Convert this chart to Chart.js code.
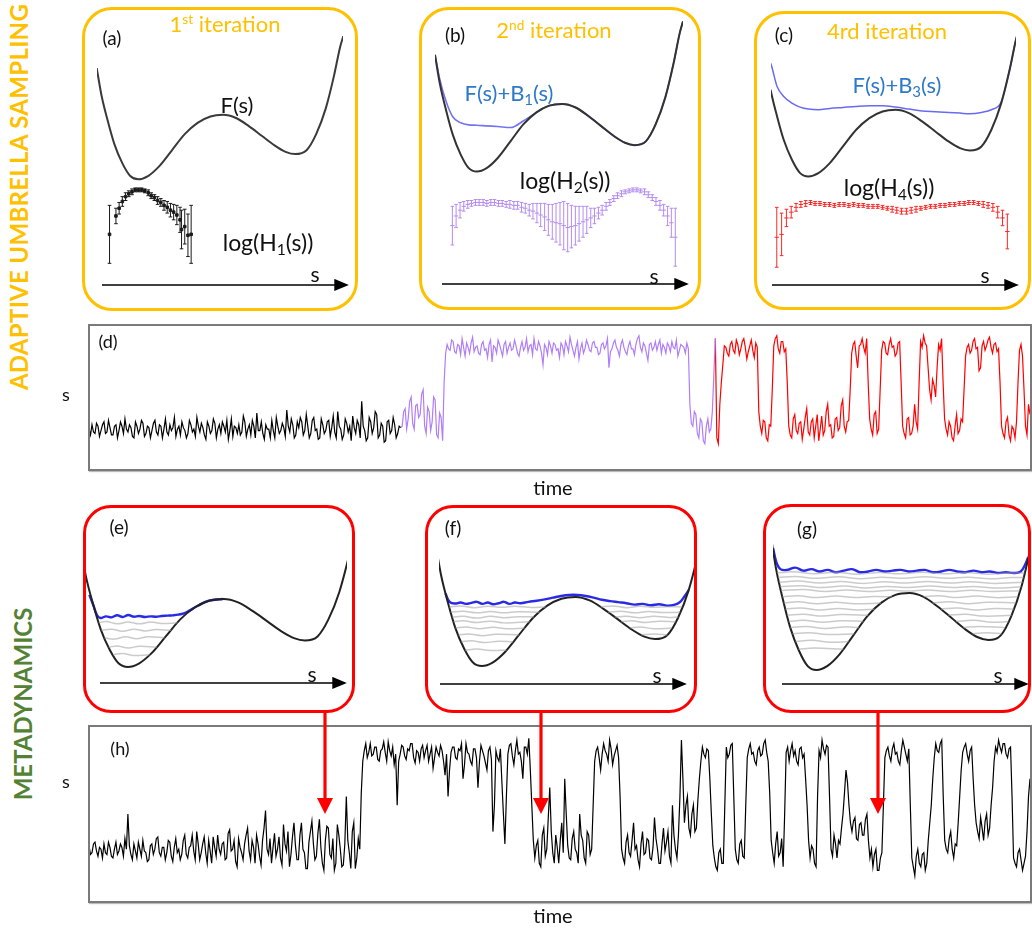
<!DOCTYPE html>
<html><head><meta charset="utf-8">
<script src="https://cdn.jsdelivr.net/npm/chart.js@4.4.1/dist/chart.umd.min.js"></script>
<style>
body{margin:0;background:#fff;width:1032px;height:931px;overflow:hidden;position:relative;font-family:Lato,'Open Sans',sans-serif;color:#111;}
.box{position:absolute;box-sizing:border-box;}
.ob{border:3px solid #FFC000;border-radius:30px;}
.rb{border:3.5px solid #FF0000;border-radius:28px;}
.tb{border:2px solid #7a7a7a;box-shadow:1px 1px 1px #bbb;}
.t{position:absolute;transform:translate(-50%,-50%);white-space:nowrap;line-height:1;}
canvas{position:absolute;}
sub{font-size:68%;vertical-align:-0.28em;line-height:0}
sup{font-size:62%;vertical-align:0.6em;line-height:0}
svg{position:absolute;left:0;top:0;z-index:5;pointer-events:none}
</style></head><body>
<script>
// ---------- DATA ----------
// free-energy profile F(s)
const sF = [0,.0195,.0452,.0713,.1037,.136,.1688,.208,.253,.305,.357,.409,.461,.513,.565,.617,.669,.721,.766,.805,.851,.890,.929,.962,.987,1.0];
const Fv = [1.725,1.30,.90,.55,.25,.05,0,.05,.20,.45,.70,.875,.975,1.0,.95,.825,.675,.525,.425,.39,.45,.70,1.10,1.60,2.05,2.22];
// adaptive bias after iterations 1 and 3 (on the sF grid)
const B1 = [0,.06,.13,.26,.47,.64,.685,.625,.465,.20,.05,0,0,0,0,0,0,0,0,0,0,0,0,0,0,0];
const B3 = [.05,.40,.45,.65,.85,.99,1.01,.95,.82,.585,.35,.185,.085,.04,.06,.155,.295,.435,.525,.55,.51,.30,.02,0,0,0];
// histograms log(H(s)) with error bars
const hA_s = [.052,.078,.091,.104,.117,.13,.143,.156,.169,.182,.195,.209,.221,.234,.247,.26,.273,.286,.299,.312,.325,.338,.344,.357,.37,.383];
const hA_v = [3.3,5.2,6.0,6.7,7.2,7.5,7.7,7.9,7.9,7.9,7.8,7.6,7.3,7.1,6.8,6.6,6.3,6.1,5.8,5.6,5.3,4.8,3.8,4.1,3.2,3.3];
const hA_e = [3.0,.8,.6,.5,.4,.3,.3,.2,.2,.2,.2,.3,.3,.3,.4,.4,.5,.6,.7,.8,1.0,1.3,2.0,1.8,2.2,3.0];
const hB_s = [.070,.085,.101,.116,.132,.147,.163,.178,.194,.209,.225,.240,.256,.271,.287,.302,.318,.333,.349,.364,.380,.395,.411,.426,.442,.457,.473,.488,.504,.519,.535,.550,.566,.581,.597,.612,.628,.643,.659,.674,.690,.705,.721,.736,.752,.767,.783,.798,.814,.829,.845,.860,.876,.891,.907,.922,.938,.953,.969];
const hB_v = [4.2,5.2,5.8,6.2,6.4,6.5,6.6,6.6,6.6,6.5,6.6,6.6,6.5,6.5,6.4,6.4,6.3,6.3,6.1,6.0,5.8,5.7,5.5,5.3,5.1,4.8,4.6,4.5,4.4,4.2,4.0,4.1,4.2,4.4,4.6,4.8,5.0,5.2,5.5,5.8,6.2,6.6,7.0,7.3,7.5,7.7,7.8,7.9,7.9,7.8,7.7,7.4,7.1,6.7,6.3,5.8,5.2,4.5,3.0];
const hB_e = [2.0,1.2,.8,.5,.4,.3,.3,.3,.3,.3,.3,.3,.3,.3,.3,.4,.4,.4,.5,.5,.6,.8,1.0,1.2,1.4,1.6,1.8,2.0,2.2,2.5,2.5,2.2,2.0,1.8,1.6,1.4,1.0,.8,.6,.5,.4,.3,.3,.3,.3,.2,.2,.2,.2,.2,.3,.3,.3,.4,.5,.6,1.0,1.5,3.0];
const hC_s = [.044,.063,.082,.101,.120,.139,.158,.177,.195,.214,.233,.252,.271,.290,.309,.328,.347,.366,.385,.404,.423,.442,.461,.480,.499,.517,.536,.555,.574,.593,.612,.631,.650,.669,.688,.707,.726,.745,.764,.783,.801,.820,.839,.858,.877,.896,.915,.934,.953];
const hC_v = [3.0,3.3,5.0,5.6,6.1,6.4,6.5,6.6,6.5,6.5,6.4,6.4,6.3,6.4,6.4,6.3,6.4,6.3,6.3,6.2,6.2,6.2,6.1,6.0,5.9,5.8,5.7,5.7,5.8,5.9,6.0,6.1,6.2,6.2,6.3,6.3,6.4,6.4,6.5,6.5,6.6,6.6,6.5,6.4,6.3,6.1,5.6,5.0,3.6];
const hC_e = [3.1,2.2,.9,.6,.4,.3,.3,.2,.2,.2,.2,.2,.2,.2,.2,.2,.2,.2,.2,.2,.2,.2,.2,.2,.3,.3,.3,.3,.3,.3,.2,.2,.2,.2,.2,.2,.2,.2,.2,.2,.2,.2,.2,.3,.3,.4,.6,.8,1.8];
// metadynamics: deposited bias profiles [s, F+V]
const eBlue = [[.03,1.06],[.045,.90],[.058,.76],[.07,.72],[.09,.745],[.11,.73],[.13,.76],[.15,.735],[.17,.765],[.19,.74],[.21,.75],[.23,.735],[.25,.745],[.27,.74],[.29,.75],[.31,.755],[.33,.76],[.35,.77],[.37,.79],[.39,.83],[.42,.90],[.46,.975],[.51,1.0]];
const eGray = [
 [[.064,.65],[.09,.67],[.13,.635],[.17,.66],[.21,.635],[.25,.66],[.29,.64],[.347,.65]],
 [[.0724,.54],[.11,.555],[.15,.525],[.19,.555],[.23,.53],[.27,.55],[.324,.54]],
 [[.0843,.43],[.12,.41],[.16,.445],[.20,.415],[.24,.445],[.301,.43]],
 [[.0994,.29],[.13,.31],[.17,.28],[.21,.305],[.272,.29]],
 [[.115,.18],[.15,.20],[.19,.17],[.247,.18]]];
const fBlue = [[.035,1.05],[.05,.93],[.07,.905],[.09,.92],[.11,.90],[.13,.915],[.15,.93],[.17,.90],[.19,.92],[.21,.895],[.23,.91],[.25,.93],[.27,.90],[.29,.92],[.31,.91],[.34,.93],[.37,.945],[.40,.965],[.43,.99],[.46,1.015],[.49,1.03],[.52,1.03],[.55,1.015],[.58,.99],[.61,.96],[.64,.94],[.67,.925],[.70,.91],[.73,.89],[.76,.90],[.79,.88],[.82,.895],[.85,.875],[.875,.885],[.895,.92],[.912,1.0],[.929,1.1]];
const fGray = [
 [[.0486,.855],[.09,.87],[.14,.845],[.19,.865],[.24,.85],[.29,.865],[.34,.85],[.403,.855]],
 [[.0541,.78],[.10,.795],[.15,.77],[.20,.79],[.25,.77],[.30,.785],[.381,.78]],
 [[.0594,.71],[.10,.72],[.15,.695],[.20,.72],[.25,.70],[.30,.715],[.36,.71]],
 [[.0646,.64],[.10,.655],[.15,.63],[.20,.65],[.25,.625],[.3445,.64]],
 [[.0713,.55],[.11,.565],[.16,.54],[.21,.56],[.26,.54],[.326,.55]],
 [[.0821,.45],[.12,.465],[.17,.44],[.22,.46],[.305,.45]],
 [[.0929,.35],[.13,.365],[.18,.34],[.23,.36],[.284,.35]],
 [[.107,.23],[.15,.245],[.20,.225],[.259,.23]],
 [[.605,.855],[.65,.87],[.70,.845],[.75,.865],[.80,.85],[.85,.86],[.905,.855]],
 [[.633,.78],[.68,.795],[.73,.77],[.78,.79],[.83,.775],[.898,.78]],
 [[.657,.71],[.70,.72],[.75,.70],[.80,.72],[.85,.705],[.891,.71]],
 [[.681,.64],[.72,.655],[.77,.63],[.82,.65],[.881,.64]],
 [[.712,.55],[.75,.565],[.80,.54],[.867,.55]],
 [[.755,.45],[.80,.465],[.851,.45]]];
const gBlue = [[.008,1.58],[.02,1.40],[.035,1.31],[.06,1.30],[.09,1.33],[.12,1.29],[.15,1.31],[.18,1.28],[.21,1.30],[.24,1.27],[.27,1.29],[.30,1.31],[.33,1.27],[.36,1.28],[.39,1.30],[.42,1.28],[.45,1.29],[.48,1.30],[.51,1.28],[.54,1.29],[.57,1.30],[.60,1.27],[.63,1.28],[.66,1.30],[.69,1.28],[.72,1.27],[.75,1.29],[.78,1.27],[.81,1.28],[.84,1.26],[.87,1.27],[.90,1.26],[.925,1.28],[.94,1.36],[.952,1.46]];
const gGray = [
 [[.022,1.26],[.08,1.275],[.16,1.25],[.24,1.27],[.32,1.245],[.40,1.265],[.48,1.25],[.56,1.27],[.64,1.25],[.72,1.265],[.80,1.245],[.88,1.26],[.939,1.26]],
 [[.026,1.20],[.09,1.215],[.17,1.19],[.25,1.21],[.33,1.185],[.41,1.205],[.49,1.19],[.57,1.21],[.65,1.19],[.73,1.205],[.81,1.185],[.89,1.20],[.936,1.20]],
 [[.030,1.14],[.10,1.155],[.18,1.13],[.26,1.15],[.34,1.125],[.42,1.145],[.50,1.13],[.58,1.15],[.66,1.13],[.74,1.145],[.82,1.125],[.932,1.14]],
 [[.034,1.08],[.11,1.095],[.19,1.07],[.27,1.09],[.35,1.065],[.43,1.085],[.51,1.07],[.59,1.09],[.67,1.07],[.75,1.085],[.83,1.065],[.927,1.08]],
 [[.037,1.03],[.12,1.045],[.20,1.02],[.28,1.04],[.36,1.02],[.44,1.035],[.51,1.025],[.58,1.04],[.66,1.02],[.74,1.035],[.82,1.02],[.922,1.03]],
 [[.042,.95],[.10,.965],[.17,.94],[.24,.96],[.31,.94],[.38,.955],[.448,.95]],
 [[.565,.95],[.62,.965],[.69,.94],[.76,.96],[.83,.94],[.914,.95]],
 [[.047,.87],[.10,.885],[.17,.86],[.24,.88],[.31,.86],[.407,.87]],
 [[.598,.87],[.66,.885],[.73,.86],[.80,.88],[.907,.87]],
 [[.0534,.79],[.11,.805],[.18,.78],[.25,.80],[.32,.78],[.384,.79]],
 [[.629,.79],[.69,.805],[.76,.78],[.83,.80],[.899,.79]],
 [[.0594,.71],[.12,.725],[.19,.70],[.26,.72],[.36,.71]],
 [[.657,.71],[.72,.725],[.79,.70],[.891,.71]],
 [[.0653,.63],[.12,.645],[.19,.62],[.26,.64],[.342,.63]],
 [[.685,.63],[.75,.645],[.82,.62],[.879,.63]],
 [[.0713,.55],[.13,.565],[.20,.54],[.27,.56],[.326,.55]],
 [[.712,.55],[.77,.565],[.867,.55]],
 [[.0799,.47],[.14,.485],[.21,.46],[.309,.47]],
 [[.746,.47],[.80,.485],[.854,.47]],
 [[.0907,.37],[.15,.385],[.22,.36],[.288,.37]],
 [[.1015,.27],[.16,.285],[.268,.27]]];
// time series s(t) — adaptive umbrella sampling (iteration 1 / 2 / 4)
const dBlack = [.28,.24,.31,.26,.25,.32,.30,.23,.27,.31,.33,.25,.26,.34,.29,.24,.24,.30,.31,.22,
 .27,.33,.30,.25,.35,.28,.26,.31,.29,.23,.22,.33,.30,.25,.28,.34,.32,.23,.25,.30,
 .29,.22,.27,.32,.34,.26,.24,.31,.30,.22,.28,.35,.26,.24,.31,.27,.29,.36,.23,.28,
 .30,.24,.33,.29,.27,.22,.25,.34,.31,.26,.28,.23,.36,.30,.26,.32,.29,.24,.21,.33,
 .30,.25,.27,.35,.32,.22,.28,.31,.25,.33,.30,.26,.34,.21,.27,.35,.23,.30,.29,.25,
 .31,.24,.26,.37,.33,.23,.28,.31,.24,.34,.30,.22,.39,.27,.27,.33,.25,.21,.31,.28,
 .28,.22,.34,.27,.22,.36,.30,.25,.27,.32,.29,.23,.41,.30,.26,.35,.31,.22,.24,.33,
 .29,.36,.33,.24,.27,.38,.30,.22,.25,.34,.36,.27,.28,.21,.22,.35,.31,.25,.27,.33,
 .34,.23,.29,.37,.26,.22,.40,.30,.28,.21,.24,.35,.32,.26,.30,.20,.37,.29,.25,.34,
 .31,.22,.47,.30,.27,.20,.22,.36,.33,.25,.29,.40,.38,.22,.24,.32,.30,.19,.20,.33,
 .34,.25,.27,.36,.31,.22,.25,.30,.29];
const dPurple = [.30,.40,.42,.28,.35,.47,.50,.32,.28,.44,.45,.36,.38,.52,.55,.30,.25,.43,.40,.27,.33,.50,.48,.24,.22,.39,.36,.20,.60,.80,
 .86,.83,.82,.89,.88,.81,.80,.86,.85,.79,.90,.84,.78,.87,.84,.80,.87,.91,.81,.84,
 .85,.80,.79,.86,.88,.82,.83,.77,.86,.89,.74,.85,.84,.80,.89,.86,.82,.78,.86,.88,
 .80,.84,.87,.82,.83,.89,.85,.80,.78,.84,.88,.82,.84,.90,.81,.85,.86,.79,.90,.83,
 .82,.88,.85,.80,.72,.86,.84,.79,.88,.85,.80,.87,.86,.82,.83,.77,.87,.85,.79,.88,
 .85,.81,.91,.86,.82,.78,.84,.88,.76,.83,.87,.80,.83,.89,.86,.82,.81,.87,.88,.84,
 .84,.79,.80,.86,.87,.83,.85,.90,.70,.81,.83,.87,.89,.84,.82,.78,.86,.89,.84,.81,
 .79,.85,.88,.83,.83,.79,.86,.90,.92,.84,.81,.87,.85,.80,.75,.86,.87,.82,.84,.88,
 .82,.86,.89,.80,.86,.84,.80,.87,.85,.81,.88,.84,.83,.89,.78,.82,.86,.85,.84,.80,.87,.83,
 .45,.32,.30,.40,.38,.25,.22,.35,.33,.20,.18,.30,.35,.26,.28,.40,.65,.90];
const dRed = [.22,.18,.45,.60,.72,.85,
 .84,.80,.78,.86,.88,.82,.80,.89,.86,.79,.83,.88,.90,.84,.76,.81,.85,.89,.82,.77,.87,.84,
 .40,.30,.25,.34,.33,.22,.20,.31,.30,.55,
 .85,.90,.92,.83,.80,.88,.88,.81,.83,.60,
 .30,.24,.22,.35,.38,.27,.25,.32,.33,.21,.28,.36,.42,.26,.24,.33,.35,.22,.30,.38,.20,.28,.37,.24,.27,.40,.45,.30,.31,.22,.23,.35,.36,.27,.29,.44,.48,.30,.26,.33,.34,.55,
 .80,.86,.88,.78,.70,.85,.86,.90,.84,.80,.90,.60,
 .35,.28,.24,.38,.40,.25,.28,.55,
 .82,.88,.87,.80,.79,.86,.90,.84,.85,.78,.80,.87,.88,.60,
 .30,.25,.22,.35,.36,.24,.25,.30,.45,.33,.28,.60,
 .88,.84,.92,.87,.85,.70,
 .55,.48,.62,.58,.50,.70,
 .86,.82,.90,.60,
 .35,.28,.24,.33,.30,.22,.20,.30,.38,.25,.27,.35,.33,.55,
 .78,.84,.86,.80,.82,.88,.90,.83,.84,.68,.70,.85,.88,.82,.85,.89,.91,.84,.80,.86,.87,.81,.83,.60,
 .30,.25,.22,.33,.36,.24,.20,.30,.28,.22,.33,.60,
 .82,.86,.78,.55,
 .30,.24,.45,.38];
// time series s(t) — metadynamics
const hMeta = [.32,.27,.28,.33,.34,.29,.26,.31,.30,.25,.33,.28,.27,.34,.31,.26,.25,.30,.34,.27,
 .29,.33,.31,.26,.36,.30,.50,.32,.27,.24,.33,.29,.25,.34,.30,.26,.35,.29,.28,.23,
 .24,.32,.33,.27,.30,.36,.37,.28,.26,.31,.31,.24,.28,.35,.34,.26,.23,.31,.36,.28,
 .30,.24,.27,.35,.38,.27,.25,.31,.32,.38,.29,.24,.40,.33,.24,.28,.33,.37,.28,.22,
 .35,.29,.22,.37,.31,.26,.38,.30,.27,.33,.34,.24,.25,.39,.41,.29,.30,.35,.23,.20,
 .36,.31,.28,.24,.33,.38,.42,.29,.24,.35,.31,.22,.38,.33,.26,.21,.35,.42,.52,.30,
 .27,.36,.22,.31,.39,.26,.30,.37,.25,.21,.44,.33,.29,.40,.20,.27,.37,.45,.32,.24,
 .24,.38,.45,.30,.28,.19,.19,.34,.40,.46,.33,.24,.26,.39,.47,.31,.22,.18,.35,.43,
 .42,.27,.25,.36,.18,.22,.44,.38,.30,.20,.21,.33,.60,.35,.28,.19,.40,.45,.19,.25,
 .36,.30,.62,.80,
 .86,.90,.82,.85,.90,.83,.84,.88,.88,.81,.80,.86,.87,.91,.85,.80,.91,.86,.83,.88,
 .78,.84,.55,.80,.84,.89,.88,.83,.81,.87,.86,.90,.90,.82,.79,.86,.85,.80,.87,.89,
 .82,.86,.89,.80,.84,.88,.76,.82,.88,.85,.83,.89,.86,.80,.72,.84,.60,.75,.85,.88,
 .88,.82,.81,.87,.86,.90,.70,.78,.90,.85,.84,.80,.78,.87,.87,.82,.65,.80,.89,.86,
 .83,.79,.75,.86,.88,.81,.40,.55,.86,.82,.80,.87,.68,.50,.33,.60,.84,.89,.90,.83,
 .78,.86,.92,.84,.85,.80,.70,.88,.88,.84,.93,.75,.55,.35,
 .25,.32,.35,.22,.20,.38,.42,.26,.30,.48,.65,.40,.28,.22,.38,.31,.22,.35,.45,.28,
 .70,.50,.32,.25,.24,.36,.40,.30,.28,.22,.50,.38,.35,.25,.22,.40,.38,.27,.30,.55,
 .80,.86,.88,.82,.75,.84,.90,.86,.84,.80,.92,.87,.78,.83,.86,.89,.82,.60,
 .30,.25,.22,.34,.38,.28,.26,.35,.45,.30,.32,.24,.20,.33,.40,.27,.28,.36,.35,.25,
 .24,.31,.48,.36,.30,.22,.22,.33,.42,.29,.34,.40,.26,.22,.55,.38,.30,.25,.38,.60,
 .92,.70,.45,.55,.60,.42,.38,.50,.55,.40,.42,.58,.70,.80,.88,.84,.82,.87,.86,.70,.50,.32,
 .25,.20,.18,.28,.30,.22,.22,.55,.88,.82,.84,.89,.90,.60,.30,.24,.22,.33,.35,.26,.25,.55,
 .82,.87,.90,.84,.85,.80,.78,.86,.88,.83,.84,.90,.92,.85,.80,.62,
 .35,.28,.22,.33,.40,.26,.28,.36,.20,.50,
 .85,.88,.80,.86,.90,.83,.86,.80,.78,.87,.88,.82,.84,.70,.55,.35,
 .25,.32,.30,.22,.20,.60,.86,.82,.92,.87,.84,.89,.88,.60,
 .30,.26,.38,.33,.25,.35,.33,.42,.50,.62,.75,.68,.55,.45,
 .40,.46,.48,.36,.35,.44,.45,.38,.38,.47,.50,.35,.25,.30,.20,.27,.30,.18,.18,.25,.28,.55,
 .82,.86,.88,.83,.80,.87,.90,.84,.85,.80,.78,.86,.92,.88,.84,.80,.87,.55,
 .25,.20,.15,.26,.30,.22,.20,.27,.28,.18,.22,.35,.45,.55,.70,.82,
 .90,.86,.85,.90,.92,.60,.35,.30,.28,.36,.40,.30,.25,.33,.32,.45,.60,.75,
 .85,.88,.90,.84,.80,.86,.88,.70,.55,.45,.40,.36,.48,.42,.35,.46,.50,.38,.42,.55,.65,.80,
 .88,.85,.92,.88,.85,.90,.90,.84,.82,.87,.88,.60,.25,.22,.20,.28,.30,.24,.18,.22,.26,.40,.60,.70];

// ---------- helpers ----------
const errPlugin = {id:'errbars', afterDatasetsDraw(chart){
  const ctx = chart.ctx;
  chart.data.datasets.forEach((ds,i)=>{
    if(!ds.errors) return;
    const meta = chart.getDatasetMeta(i);
    const xs = chart.scales[meta.xAxisID], ys = chart.scales[meta.yAxisID];
    ctx.save(); ctx.strokeStyle = ds.borderColor; ctx.lineWidth = 1;
    ds.data.forEach((p,j)=>{
      const e = ds.errors[j], x = xs.getPixelForValue(p.x);
      const y1 = ys.getPixelForValue(p.y-e), y2 = ys.getPixelForValue(p.y+e);
      ctx.beginPath(); ctx.moveTo(x,y1); ctx.lineTo(x,y2);
      ctx.moveTo(x-1.8,y1); ctx.lineTo(x+1.8,y1); ctx.moveTo(x-1.8,y2); ctx.lineTo(x+1.8,y2);
      ctx.stroke();
    });
    ctx.restore();
  });
}};
function rng(px0, k, start, size, inverted){
  if(inverted){ const max=(px0-start)/k; return [max-size/k, max]; }
  const min=(start-px0)/k; return [min, min+size/k];
}
function chart(left, top, w, h, xr, yaxes, datasets){
  const c = document.createElement('canvas');
  c.width=w; c.height=h; c.style.left=left+'px'; c.style.top=top+'px'; c.style.width=w+'px'; c.style.height=h+'px';
  document.body.appendChild(c);
  const scales = {x:{type:'linear',display:false,min:xr[0],max:xr[1]}};
  for(const k in yaxes) scales[k]={type:'linear',display:false,min:yaxes[k][0],max:yaxes[k][1]};
  new Chart(c,{type:'scatter',data:{datasets},options:{responsive:false,animation:false,events:[],
    layout:{padding:0},plugins:{legend:{display:false},tooltip:{enabled:false}},scales},plugins:[errPlugin]});
}
const pts = (xs,ys)=>xs.map((x,i)=>({x,y:ys[i]}));
const prs = a=>a.map(p=>({x:p[0],y:p[1]}));
function line(data,color,width,extra){
  return Object.assign({data,showLine:true,borderColor:color,backgroundColor:color,borderWidth:width,pointRadius:0,
    cubicInterpolationMode:'monotone',yAxisID:'y'},extra||{});
}
function hist(s,v,e,color,style){
  return {data:pts(s,v),errors:e,showLine:false,borderColor:color,backgroundColor:color,pointStyle:style,
    pointRadius:style==='rect'?1.8:2.2,borderWidth:1,yAxisID:'yH'};
}
const Fpts = pts(sF,Fv);
const plus = B=>sF.map((s,i)=>({x:s,y:Fv[i]+B[i]}));

// ---------- top row: adaptive umbrella sampling ----------
// geometry: [s px origin, px per s, canvas left, width, F=0 px, px per F, top, height]
function topPanel(g, sets){
  const xr = rng(g[0],g[1],g[2],g[3],false);
  const yr = rng(g[4],g[5],g[6],g[7],true);
  const yh = rng(270,10,g[6],g[7],true);
  chart(g[2],g[6],g[3],g[7],xr,{y:yr,yH:yh},sets);
}
topPanel([91.7,256.6,92,256,180,66.7,10,296],[
  line(Fpts,'#3a3a3a',2),
  hist(hA_s,hA_v,hA_e,'#1a1a1a','rect')]);
topPanel([430,258,430,258,172,70,10,296],[
  line(Fpts,'#333333',2),
  line(plus(B1),'rgba(80,80,240,0.8)',1.6),
  hist(hB_s,hB_v,hB_e,'#b48cf0','line')]);
topPanel([760.4,264,766,255,177,69,13,294],[
  line(Fpts,'#333333',2),
  line(plus(B3),'rgba(90,90,240,0.9)',1.5),
  hist(hC_s,hC_v,hC_e,'#ff2626','line')]);

// ---------- middle row: metadynamics ----------
function metaPanel(g, blue, grays){
  const xr = rng(g[0],g[1],g[2],g[3],false);
  const yr = rng(g[4],g[5],g[6],g[7],true);
  const sets = grays.map(gl=>line(prs(gl),'rgba(160,160,160,0.55)',1.5,{cubicInterpolationMode:'default',tension:0.4}));
  sets.push(line(Fpts,'#222222',2));
  sets.push(line(prs(blue),'#2a2ae6',2.4,{cubicInterpolationMode:'default',tension:0.4}));
  chart(g[2],g[6],g[3],g[7],xr,{y:yr},sets);
}
metaPanel([81,278,85,262,667,68,508,172],eBlue,eGray);
metaPanel([436,272,439,256,666,69,508,172],fBlue,fGray);
metaPanel([771,270,773,255,670,77,508,172],gBlue,gGray);

// ---------- time series ----------
const nD = dBlack.length, nP = dPurple.length, nR = dRed.length;
const dB = dBlack.map((v,i)=>({x:i,y:v}));
const dP = [{x:nD-1,y:dBlack[nD-1]}].concat(dPurple.map((v,i)=>({x:nD+i,y:v})));
const dR = [{x:nD+nP-1,y:dPurple[nP-1]}].concat(dRed.map((v,i)=>({x:nD+nP+i,y:v})));
const ts = {tension:0, cubicInterpolationMode:'default'};
const stepD = 941/(nD+nP+nR-1);
chart(90,326,940,143, rng(89,stepD,90,940,false), {y:rng(470,146,326,143,true)}, [
  line(dB,'#000000',1.2,ts), line(dP,'#b07ef7',1.2,ts), line(dR,'#ff0000',1.2,ts)]);
const hM = hMeta.map((v,i)=>({x:i,y:v}));
const stepH = 941/(hMeta.length-1);
chart(90,727,940,174, rng(89,stepH,90,940,false), {y:rng(902,176,727,174,true)}, [
  line(hM,'#000000',1.2,ts)]);
</script>

<!-- boxes -->
<div class="box ob" style="left:82px;top:7px;width:276px;height:304px"></div>
<div class="box ob" style="left:419px;top:7px;width:282px;height:303px"></div>
<div class="box ob" style="left:754px;top:11px;width:277px;height:299px"></div>
<div class="box tb" style="left:88px;top:324px;width:944px;height:147px"></div>
<div class="box rb" style="left:83px;top:505px;width:272px;height:208px"></div>
<div class="box rb" style="left:425px;top:505px;width:272px;height:208px"></div>
<div class="box rb" style="left:763px;top:504px;width:268px;height:209px"></div>
<div class="box tb" style="left:88px;top:725px;width:944px;height:178px"></div>

<!-- texts -->
<div class="t" style="left:19px;top:197px;transform:translate(-50%,-50%) rotate(-90deg);font-weight:700;font-size:24px;color:#FFC000;letter-spacing:0.3px">ADAPTIVE UMBRELLA SAMPLING</div>
<div class="t" style="left:23px;top:704px;transform:translate(-50%,-50%) rotate(-90deg);font-weight:700;font-size:24px;color:#548235">METADYNAMICS</div>

<div class="t" style="left:225px;top:24px;font-size:22px;color:#FFC000">1<sup>st</sup> iteration</div>
<div class="t" style="left:554px;top:30px;font-size:22px;color:#FFC000">2<sup>nd</sup> iteration</div>
<div class="t" style="left:887px;top:31px;font-size:22px;color:#FFC000">4rd iteration</div>
<div class="t" style="left:112px;top:37px;font-size:19px">(a)</div>
<div class="t" style="left:455px;top:34px;font-size:19px">(b)</div>
<div class="t" style="left:784px;top:34px;font-size:19px">(c)</div>
<div class="t" style="left:237px;top:105px;font-size:22px">F(s)</div>
<div class="t" style="left:268px;top:242px;font-size:23px">log(H<sub>1</sub>(s))</div>
<div class="t" style="left:509px;top:93px;font-size:22px;color:#2E78C8">F(s)+B<sub>1</sub>(s)</div>
<div class="t" style="left:565px;top:180px;font-size:23px">log(H<sub>2</sub>(s))</div>
<div class="t" style="left:897px;top:85px;font-size:22px;color:#2E78C8">F(s)+B<sub>3</sub>(s)</div>
<div class="t" style="left:889px;top:187px;font-size:23px">log(H<sub>4</sub>(s))</div>
<div class="t" style="left:315px;top:273px;font-size:21px">s</div>
<div class="t" style="left:654px;top:275px;font-size:21px">s</div>
<div class="t" style="left:985px;top:274px;font-size:21px">s</div>

<div class="t" style="left:108px;top:341px;font-size:18px">(d)</div>
<div class="t" style="left:66px;top:394px;font-size:18px">s</div>
<div class="t" style="left:553px;top:487px;font-size:20px">time</div>

<div class="t" style="left:119px;top:526px;font-size:19px">(e)</div>
<div class="t" style="left:453px;top:527px;font-size:19px">(f)</div>
<div class="t" style="left:807px;top:528px;font-size:19px">(g)</div>
<div class="t" style="left:312px;top:673px;font-size:21px">s</div>
<div class="t" style="left:657px;top:674px;font-size:21px">s</div>
<div class="t" style="left:998px;top:674px;font-size:21px">s</div>

<div class="t" style="left:120px;top:748px;font-size:18px">(h)</div>
<div class="t" style="left:66px;top:781px;font-size:18px">s</div>
<div class="t" style="left:553px;top:915px;font-size:20px">time</div>

<svg width="1032" height="931" viewBox="0 0 1032 931">
 <g stroke="#000" stroke-width="1.4" fill="#000">
  <line x1="102" y1="285" x2="337" y2="285"/><polygon points="335,280 347,285 335,290"/>
  <line x1="442" y1="284" x2="677" y2="284"/><polygon points="675,279 687,284 675,289"/>
  <line x1="772" y1="285" x2="1007" y2="285"/><polygon points="1005,280 1017,285 1005,290"/>
  <line x1="100" y1="683" x2="335" y2="683"/><polygon points="333,678 345,683 333,688"/>
  <line x1="440" y1="684" x2="675" y2="684"/><polygon points="673,679 685,684 673,689"/>
  <line x1="782" y1="684" x2="1017" y2="684"/><polygon points="1015,679 1027,684 1015,689"/>
 </g>
 <g stroke="#FF0000" stroke-width="3.2" fill="#FF0000">
  <line x1="325" y1="712" x2="325" y2="800"/><polygon points="317,798 333,798 325,814" stroke="none"/>
  <line x1="541" y1="712" x2="541" y2="800"/><polygon points="533,798 549,798 541,814" stroke="none"/>
  <line x1="878" y1="712" x2="878" y2="800"/><polygon points="870,798 886,798 878,814" stroke="none"/>
 </g>
</svg>
</body></html>
